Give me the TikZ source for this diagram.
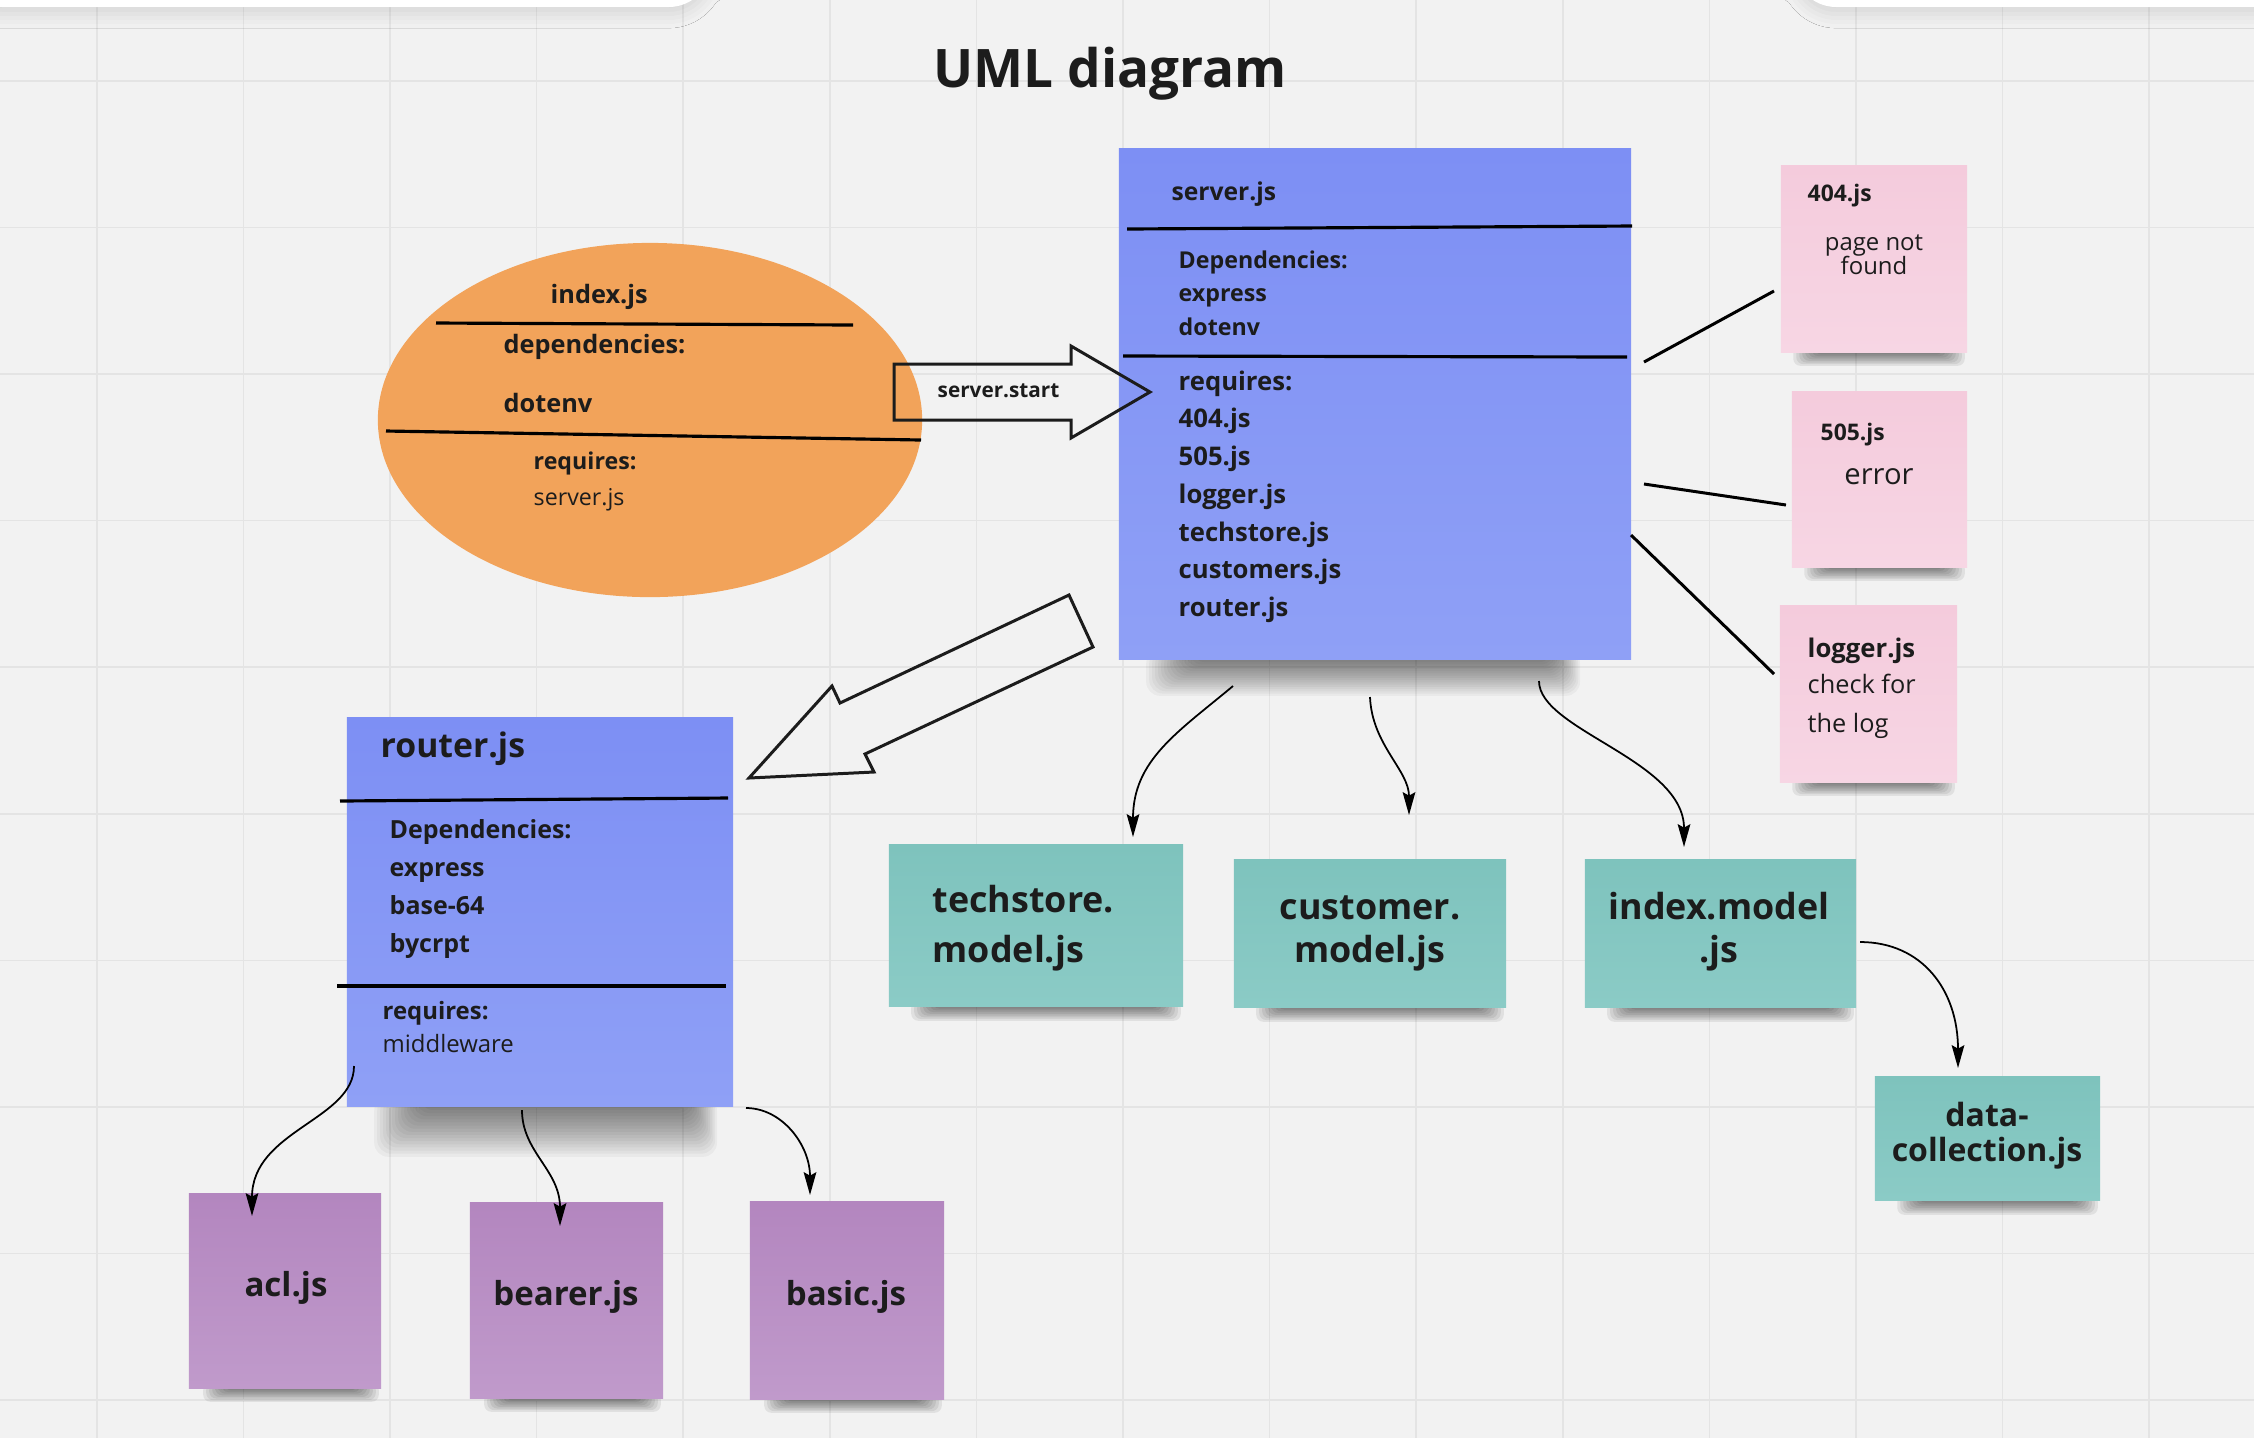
\documentclass[tikz,border=0pt]{standalone}
\usepackage{fontspec}
\setmainfont{Open Sans}
\usetikzlibrary{shapes.geometric,arrows.meta,shadows.blur,calc}
\definecolor{bg}{HTML}{F2F2F2}
\definecolor{gridc}{HTML}{E4E4E4}
\definecolor{ink}{HTML}{1C1C1C}
\definecolor{orng}{HTML}{F2A35A}
\definecolor{blueA}{HTML}{7D8FF4}
\definecolor{blueB}{HTML}{8FA0F6}
\definecolor{pinkA}{HTML}{F4CBDC}
\definecolor{pinkB}{HTML}{F7D6E4}
\definecolor{tealA}{HTML}{7EC3BD}
\definecolor{tealB}{HTML}{8BCBC6}
\definecolor{purpA}{HTML}{B386BF}
\definecolor{purpB}{HTML}{C09ACB}
\newcommand\myfs[1]{\fontsize{#1}{#1}\selectfont}
\pgfdeclarelayer{backlayer}
\pgfdeclarelayer{shadowlayer}
\pgfsetlayers{backlayer,shadowlayer,main}
% small note shadow: #1 node, #2 left inset, #3 depth, #4 side step, #5 opacity
\newcommand\noteshadow[5]{%
  \begin{pgfonlayer}{shadowlayer}
  \foreach \k in {1,...,8}{
    \fill[black,opacity=#5,rounded corners=2pt]
      ($(#1.south west)+({#2+\k*#4},-6)$) rectangle ($(#1.south east)+({-\k*#4},{#3*(9-\k)/8})$);
  }
  \end{pgfonlayer}}
% big soft shadow: #1 node, #2 left inset, #3 right inset, #4 depth, #5 side step, #6 opacity
\newcommand\bigshadow[6]{%
  \begin{pgfonlayer}{shadowlayer}
  \foreach \k in {1,...,16}{
    \fill[black,opacity=#6,rounded corners=4pt]
      ($(#1.south west)+({#2+\k*#5},-10)$) rectangle ($(#1.south east)+({-#3-\k*#5*0.6},{#4*(17-\k)/16})$);
  }
  \end{pgfonlayer}}
\begin{document}
\begin{tikzpicture}[x=0.01cm,y=-0.01cm,
  gridline/.style={draw=gridc,line width=0.45pt},
  sticky/.style={rectangle,inner sep=0pt,draw=none},
  bluenote/.style={sticky,top color=blueA,bottom color=blueB},
  pinknote/.style={sticky,top color=pinkA,bottom color=pinkB},
  tealnote/.style={sticky,top color=tealA,bottom color=tealB},
  purpnote/.style={sticky,top color=purpA,bottom color=purpB},
  txt/.style={inner sep=0pt,anchor=base west,text=ink},
  ctxt/.style={inner sep=0pt,anchor=base,text=ink,align=center},
  sepline/.style={draw=black,line width=0.9pt},
  conn/.style={draw=black,line width=0.85pt},
  blockarrow/.style={draw=ink,line width=0.85pt,line join=miter},
  curve/.style={draw=black,line width=0.5pt,-{Stealth[length=6.5pt,width=3.6pt,inset=1pt]}},
]
\useasboundingbox (0,0) rectangle (2254,1438);
\begin{pgfonlayer}{backlayer}
\fill[bg] (0,0) rectangle (2254,1438);
\foreach \i in {0,...,14} \draw[gridline] ({96.8+146.6*\i},0) -- ({96.8+146.6*\i},1438);
\foreach \j in {0,...,9} \draw[gridline] (0,{80.7+146.6*\j}) -- (2254,{80.7+146.6*\j});
\fill[white,rounded corners=12pt,blur shadow={shadow xshift=0pt,shadow yshift=-2pt,shadow opacity=12,shadow blur radius=4pt}] (-40,-60) rectangle (711,7);
\fill[white,rounded corners=12pt,blur shadow={shadow xshift=0pt,shadow yshift=-2pt,shadow opacity=12,shadow blur radius=4pt}] (1794,-60) rectangle (2300,7);
\end{pgfonlayer}

% title
\node[ctxt,font=\bfseries\myfs{15.1pt}] (title) at (1110,87) {UML diagram};

% index.js ellipse
\node[ellipse,fill=orng,draw=none,minimum width=5.44cm,minimum height=3.54cm,inner sep=0pt] (index) at (650,420) {};
\coordinate (ia) at (436,323);
\coordinate (ib) at (853,325);
\coordinate (ic) at (386,431);
\coordinate (id) at (921,440);
\draw[sepline] (ia) -- (ib);
\draw[sepline] (ic) -- (id);
\node[txt,font=\bfseries\myfs{7.2pt}] (ixt) at (550,303) {index.js};
\node[txt,font=\bfseries\myfs{7.2pt}] (ixd) at (503,353) {dependencies:};
\node[txt,font=\bfseries\myfs{7.2pt}] (ixe) at (503,412) {dotenv};
\node[txt,font=\bfseries\myfs{6.6pt}] (ixr) at (533,469) {requires:};
\node[txt,font=\myfs{6.6pt}] (ixs) at (533,505) {server.js};

% server.js box
\node[bluenote,minimum width=5.12cm,minimum height=5.10cm] (server) at (1375,404) {};
\bigshadow{server}{25}{50}{36}{3}{0.035}
\coordinate (sa) at (1127,229);
\coordinate (sb) at (1632,226);
\coordinate (sc) at (1123,356);
\coordinate (sd) at (1627,357);
\draw[sepline] (sa) -- (sb);
\draw[sepline] (sc) -- (sd);
\node[txt,font=\bfseries\myfs{7pt}] (s0) at (1171,200) {server.js};
\node[txt,font=\bfseries\myfs{6.6pt}] (s1) at (1178,268) {Dependencies:};
\node[txt,font=\bfseries\myfs{6.6pt}] (s2) at (1178,301) {express};
\node[txt,font=\bfseries\myfs{6.6pt}] (s3) at (1178,335) {dotenv};
\node[txt,font=\bfseries\myfs{7.3pt}] (s4) at (1178,390) {requires:};
\node[txt,font=\bfseries\myfs{7.3pt}] (s5) at (1178,427) {404.js};
\node[txt,font=\bfseries\myfs{7.3pt}] (s6) at (1178,465) {505.js};
\node[txt,font=\bfseries\myfs{7.3pt}] (s7) at (1178,503) {logger.js};
\node[txt,font=\bfseries\myfs{7.3pt}] (s8) at (1178,541) {techstore.js};
\node[txt,font=\bfseries\myfs{7.3pt}] (s9) at (1178,578) {customers.js};
\node[txt,font=\bfseries\myfs{7.3pt}] (s10) at (1178,616) {router.js};

% server.start arrow
\draw[blockarrow] (894,364) -- (1071,364) -- (1071,346) -- (1150,392) -- (1071,438) -- (1071,420) -- (894,420) -- cycle;
\node[txt,font=\bfseries\myfs{5.9pt}] (start) at (937,397) {server.start};

% pink notes
\node[pinknote,minimum width=1.86cm,minimum height=1.86cm] (n404) at (1874,259) {};
\noteshadow{n404}{10}{13}{3}{0.07}
\node[txt,font=\bfseries\myfs{6.5pt}] (n404a) at (1807,201) {404.js};
\node[ctxt,font=\myfs{6.8pt}] (n404b) at (1874,250) {page not};
\node[ctxt,font=\myfs{6.8pt}] (n404c) at (1874,274) {found};

\node[pinknote,minimum width=1.75cm,minimum height=1.75cm] (n505) at (1879.5,479.5) {};
\noteshadow{n505}{10}{13}{3}{0.07}
\node[txt,font=\bfseries\myfs{6.5pt}] (n505a) at (1820,440) {505.js};
\node[ctxt,font=\myfs{8.3pt}] (n505b) at (1879,484) {error};

\node[pinknote,minimum width=1.77cm,minimum height=1.76cm] (nlog) at (1868.5,694) {};
\noteshadow{nlog}{10}{13}{3}{0.07}
\node[txt,font=\bfseries\myfs{7.3pt}] (nloga) at (1807,657) {logger.js};
\node[txt,font=\myfs{7.2pt}] (nlogb) at (1807,693) {check for};
\node[txt,font=\myfs{7.2pt}] (nlogc) at (1807,732) {the log};

% connectors to pink notes
\coordinate (p1s) at (1644,362);
\coordinate (p1e) at (1774,291);
\coordinate (p2s) at (1644,484);
\coordinate (p2e) at (1786,505);
\coordinate (p3s) at (1631,535);
\coordinate (p3e) at (1774,674);
\draw[conn] (p1s) -- (p1e);
\draw[conn] (p2s) -- (p2e);
\draw[conn] (p3s) -- (p3e);

% big arrow to router
\draw[blockarrow] (1069,595) -- (1093,647) -- (865,754) -- (874,772) -- (749,778) -- (832,686) -- (840,703) -- cycle;

% router.js box
\node[bluenote,minimum width=3.86cm,minimum height=3.88cm] (router) at (540,912) {};
\bigshadow{router}{25}{15}{50}{3}{0.035}
\coordinate (ra) at (340,801);
\coordinate (rb) at (728,798);
\coordinate (rc) at (337,986);
\coordinate (rd) at (726,986);
\draw[sepline] (ra) -- (rb);
\draw[sepline] (rc) -- (rd);
\node[txt,font=\bfseries\myfs{9.6pt}] (r0) at (380,757) {router.js};
\node[txt,font=\bfseries\myfs{7.1pt}] (r1) at (389,838) {Dependencies:};
\node[txt,font=\bfseries\myfs{7.1pt}] (r2) at (389,876) {express};
\node[txt,font=\bfseries\myfs{7.1pt}] (r3) at (389,914) {base-64};
\node[txt,font=\bfseries\myfs{7.1pt}] (r4) at (389,952) {bycrpt};
\node[txt,font=\bfseries\myfs{6.8pt}] (r5) at (382,1019) {requires:};
\node[txt,font=\myfs{6.8pt}] (r6) at (382,1052) {middleware};

% teal notes
\node[tealnote,minimum width=2.94cm,minimum height=1.61cm] (tech) at (1036,925.5) {};
\noteshadow{tech}{20}{14}{3}{0.07}
\node[txt,font=\bfseries\myfs{10.2pt}] (tech1) at (932,912) {techstore.};
\node[txt,font=\bfseries\myfs{10.2pt}] (tech2) at (932,962) {model.js};

\node[tealnote,minimum width=2.72cm,minimum height=1.47cm] (cust) at (1370,933.5) {};
\noteshadow{cust}{20}{14}{3}{0.07}
\node[ctxt,font=\bfseries\myfs{10.2pt}] (cust1) at (1370,919) {customer.};
\node[ctxt,font=\bfseries\myfs{10.2pt}] (cust2) at (1370,962) {model.js};

\node[tealnote,minimum width=2.71cm,minimum height=1.47cm] (imod) at (1720.5,933.5) {};
\noteshadow{imod}{20}{14}{3}{0.07}
\node[ctxt,font=\bfseries\myfs{10.2pt}] (imod1) at (1719,919) {index.model};
\node[ctxt,font=\bfseries\myfs{10.2pt}] (imod2) at (1719,962) {.js};

\node[tealnote,minimum width=2.25cm,minimum height=1.23cm] (data) at (1987.5,1138.5) {};
\noteshadow{data}{20}{14}{3}{0.07}
\node[ctxt,font=\bfseries\myfs{9.1pt}] (data1) at (1987,1126) {data-};
\node[ctxt,font=\bfseries\myfs{9.1pt}] (data2) at (1987,1161) {collection.js};

% purple notes
\node[purpnote,minimum width=1.92cm,minimum height=1.94cm] (acl) at (285,1291) {};
\noteshadow{acl}{12}{13}{3}{0.07}
\node[ctxt,font=\bfseries\myfs{9.4pt}] (acl1) at (286,1296) {acl.js};
\node[purpnote,minimum width=1.93cm,minimum height=1.95cm] (bearer) at (566.5,1300.5) {};
\noteshadow{bearer}{12}{13}{3}{0.07}
\node[ctxt,font=\bfseries\myfs{9.4pt}] (bearer1) at (566,1305) {bearer.js};
\node[purpnote,minimum width=1.94cm,minimum height=1.97cm] (basic) at (847,1300.5) {};
\noteshadow{basic}{12}{13}{3}{0.07}
\node[ctxt,font=\bfseries\myfs{9.4pt}] (basic1) at (846,1305) {basic.js};

% curved arrows
\coordinate (c1s) at (1233,686);
\coordinate (c1e) at (1133,837);
\draw[curve] (c1s) .. controls (1178,732) and (1133,760) .. (c1e);
\coordinate (c2s) at (1370,697);
\coordinate (c2e) at (1409,815);
\draw[curve] (c2s) .. controls (1372,745) and (1409,770) .. (c2e);
\coordinate (c3s) at (1539,681);
\coordinate (c3e) at (1684,847);
\draw[curve] (c3s) .. controls (1539,730) and (1684,760) .. (c3e);
\coordinate (c4s) at (1860,942);
\coordinate (c4e) at (1958,1068);
\draw[curve] (c4s) .. controls (1922,942) and (1958,990) .. (c4e);
\coordinate (c5s) at (354,1066);
\coordinate (c5e) at (252,1216);
\draw[curve] (c5s) .. controls (354,1120) and (252,1130) .. (c5e);
\coordinate (c6s) at (522,1110);
\coordinate (c6e) at (560,1226);
\draw[curve] (c6s) .. controls (522,1152) and (560,1170) .. (c6e);
\coordinate (c7s) at (746,1108);
\coordinate (c7e) at (810,1195);
\draw[curve] (c7s) .. controls (782,1108) and (810,1145) .. (c7e);
\end{tikzpicture}
\end{document}
